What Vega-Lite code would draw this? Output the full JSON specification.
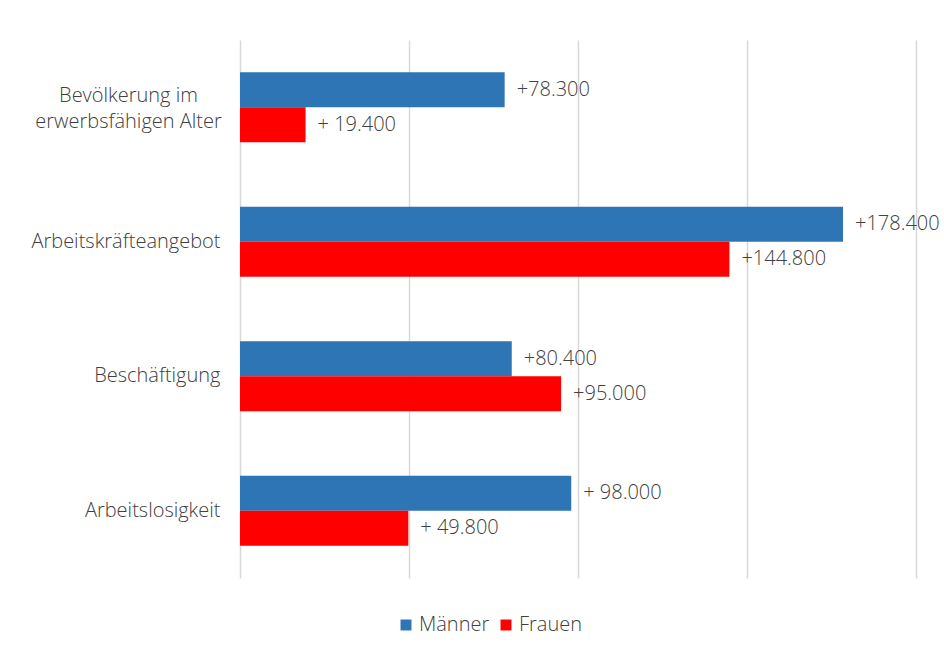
{
  "$schema": "https://vega.github.io/schema/vega-lite/v6.json",
  "autosize": {"type": "none"},
  "width": 676,
  "height": 538,
  "padding": {"left": 240, "top": 40, "right": 28, "bottom": 73},
  "background": "white",
  "config": {
    "font": "Open Sans",
    "view": {"stroke": null}
  },
  "data": {
    "values": [
      {"kategorie": "Bevölkerung im erwerbsfähigen Alter", "geschlecht": "Männer", "wert": 78300, "label": "+78.300"},
      {"kategorie": "Bevölkerung im erwerbsfähigen Alter", "geschlecht": "Frauen", "wert": 19400, "label": "+ 19.400"},
      {"kategorie": "Arbeitskräfteangebot", "geschlecht": "Männer", "wert": 178400, "label": "+178.400"},
      {"kategorie": "Arbeitskräfteangebot", "geschlecht": "Frauen", "wert": 144800, "label": "+144.800"},
      {"kategorie": "Beschäftigung", "geschlecht": "Männer", "wert": 80400, "label": "+80.400"},
      {"kategorie": "Beschäftigung", "geschlecht": "Frauen", "wert": 95000, "label": "+95.000"},
      {"kategorie": "Arbeitslosigkeit", "geschlecht": "Männer", "wert": 98000, "label": "+ 98.000"},
      {"kategorie": "Arbeitslosigkeit", "geschlecht": "Frauen", "wert": 49800, "label": "+ 49.800"}
    ]
  },
  "encoding": {
    "y": {
      "field": "kategorie",
      "type": "nominal",
      "sort": null,
      "scale": {"paddingInner": 0.48, "paddingOuter": 0.24},
      "axis": {
        "title": null,
        "domain": false,
        "ticks": false,
        "labelAlign": {"condition": {"test": "datum.value == 'Bevölkerung im erwerbsfähigen Alter'", "value": "center"}, "value": "right"},
        "labelPadding": {"condition": {"test": "datum.value == 'Bevölkerung im erwerbsfähigen Alter'", "value": 112}, "value": 20},
        "labelOffset": {"condition": {"test": "datum.value == 'Bevölkerung im erwerbsfähigen Alter'", "value": -11}, "value": 0},
        "labelFontSize": 20,
        "labelFontWeight": 300,
        "labelColor": "#404040",
        "labelLineHeight": 26,
        "labelLimit": 300,
        "labelExpr": "datum.value == 'Bevölkerung im erwerbsfähigen Alter' ? ['Bevölkerung im', 'erwerbsfähigen Alter'] : datum.value"
      }
    },
    "yOffset": {
      "field": "geschlecht",
      "type": "nominal",
      "sort": ["Männer", "Frauen"]
    },
    "x": {
      "field": "wert",
      "type": "quantitative",
      "scale": {"domain": [0, 200000], "nice": false},
      "axis": {
        "title": null,
        "labels": false,
        "ticks": false,
        "domain": false,
        "grid": true,
        "values": [0, 50000, 100000, 150000, 200000],
        "gridColor": "#d9d9d9",
        "gridWidth": 1.5
      }
    }
  },
  "layer": [
    {
      "mark": {"type": "bar"},
      "encoding": {
        "color": {
          "field": "geschlecht",
          "type": "nominal",
          "sort": ["Männer", "Frauen"],
          "scale": {"domain": ["Männer", "Frauen"], "range": ["#2E75B6", "#FF0000"]},
          "legend": {
            "title": null,
            "orient": "none",
            "direction": "horizontal",
            "legendX": 156,
            "legendY": 575,
            "symbolType": "square",
            "symbolSize": 120,
            "symbolStrokeWidth": 0,
            "labelFontSize": 20,
            "labelFontWeight": 300,
            "labelColor": "#404040",
            "labelOffset": 3,
            "columnPadding": 6
          }
        }
      }
    },
    {
      "mark": {"type": "text", "align": "left", "baseline": "middle", "dx": 12, "fontSize": 20, "fontWeight": 300, "color": "#404040"},
      "encoding": {
        "text": {"field": "label"}
      }
    }
  ]
}
